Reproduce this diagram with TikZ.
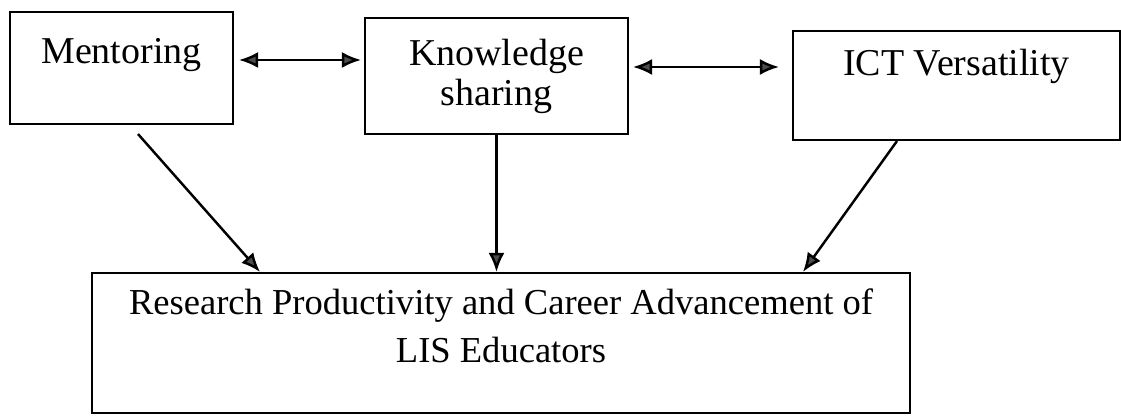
\documentclass[tikz,border=0pt]{standalone}
\usepackage{fontspec}
\setmainfont{Liberation Serif}
\usetikzlibrary{arrows.meta}

\begin{document}
\begin{tikzpicture}[scale=1.0,
        box/.style={draw, line width=1.2pt, align=center, inner sep=0pt, font=\fontsize{21.6pt}{22.8pt}\selectfont},
        tip/.style={arrows={-{Latex[length=3.8mm, width=3.2mm, fill=black!70]}}},
        link/.style={line width=1.4pt, tip},
        twoway/.style={line width=1.4pt, arrows={{Latex[length=3.8mm, width=3.2mm, fill=black!70]}-{Latex[length=3.8mm, width=3.2mm, fill=black!70]}}}]
        \useasboundingbox (0,0) rectangle (22.42,8.32);

        % the three factors
        \node[box, minimum width=4.46cm, minimum height=2.24cm, text depth=0.7cm] (ment) at (2.43,6.96) {Mentoring};
        \node[box, minimum width=5.26cm, minimum height=2.32cm] (know) at (9.93,6.80) {Knowledge\\sharing};
        \node[box, minimum width=6.54cm, minimum height=2.18cm, text depth=0.92cm] (ict) at (19.13,6.61) {ICT Versatility};

        % outcome
        \node[box, minimum width=16.36cm, minimum height=2.80cm, text depth=0.7cm, font=\fontsize{20.8pt}{22pt}\selectfont] (res) at (10.02,1.46) {Research Productivity and Career Advancement of\\[5.5pt]LIS Educators};

        \draw[twoway, shorten <=0.1cm, shorten >=0.06cm] ([yshift=0.16cm]ment.east) -- ([yshift=0.16cm]ment.east -| know.west);
        \draw[twoway, shorten <=0.08cm, shorten >=0.26cm] ([yshift=0.18cm]know.east) -- ([yshift=0.18cm]know.east -| ict.west);

        \draw[link] ([xshift=0.33cm, yshift=-0.18cm]ment.south) -- ([xshift=-4.82cm]res.north);
        \draw[link] (know.south) -- (know.south |- res.north);
        \draw[link] ([xshift=-1.19cm]ict.south) -- ([xshift=6.04cm]res.north);

    \end{tikzpicture}
\end{document}
